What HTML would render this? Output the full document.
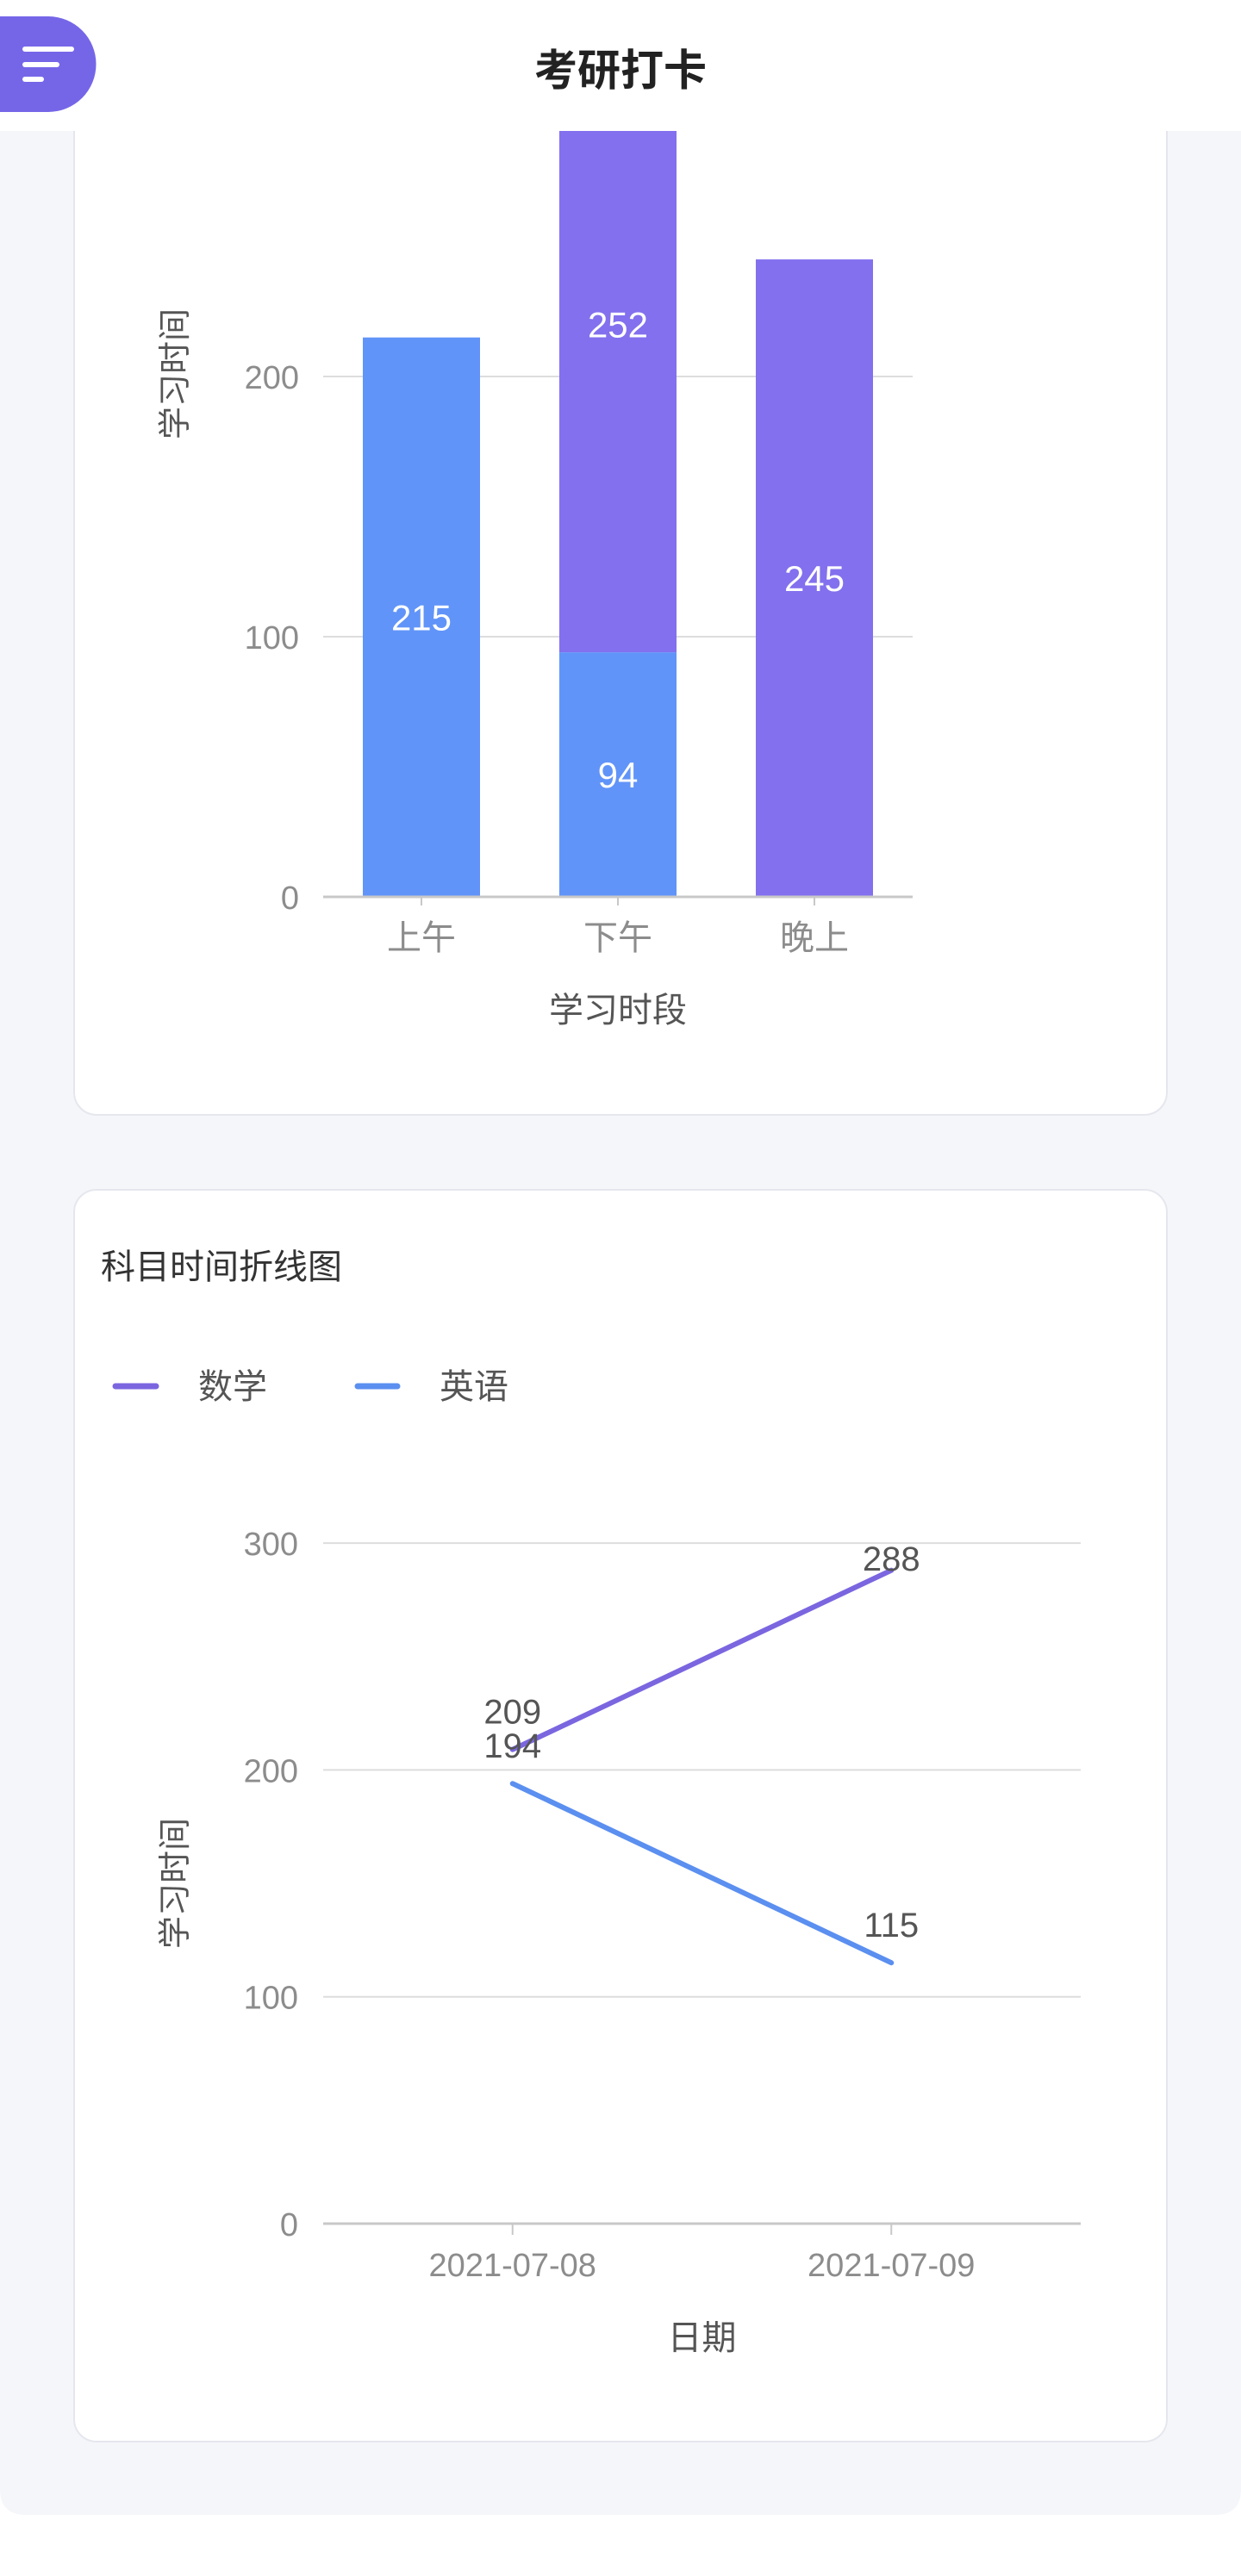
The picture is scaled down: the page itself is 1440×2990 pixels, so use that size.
<!DOCTYPE html>
<html>
<head>
<meta charset="utf-8">
<style>
  html,body{margin:0;padding:0;background:#fff;}
  body{width:1440px;height:2990px;overflow:hidden;font-family:"Liberation Sans","Noto Sans CJK SC",sans-serif;}
  svg{display:block;}
  text{font-family:"Liberation Sans","Noto Sans CJK SC",sans-serif;}
</style>
</head>
<body>
<svg id="page" width="1440" height="2990" viewBox="0 0 1440 2990" xmlns="http://www.w3.org/2000/svg">
  <rect x="0" y="0" width="1440" height="2990" fill="#ffffff"/>
  <path d="M0 100 H1440 V2889 Q1440 2919 1410 2919 H30 Q0 2919 0 2889 Z" fill="#f5f6fa"/>
  <rect x="86" y="60" width="1268" height="1234" rx="26" fill="#ffffff" stroke="#e6e7ee" stroke-width="2"/>
  <rect x="86" y="1381" width="1268" height="1453" rx="26" fill="#ffffff" stroke="#e6e7ee" stroke-width="2"/>
  <g id="bar-chart"></g>
  <g id="line-chart"></g>
  <text x="117" y="1484" font-size="40" fill="#333">科目时间折线图</text>
  <g>
    <line x1="134" y1="1609" x2="181" y2="1609" stroke="#7b66e0" stroke-width="7" stroke-linecap="round"/>
    <text x="230" y="1623" font-size="40" fill="#555">数学</text>
  </g>
  <g>
    <line x1="415" y1="1609" x2="461" y2="1609" stroke="#5b8ff0" stroke-width="7" stroke-linecap="round"/>
    <text x="510" y="1623" font-size="40" fill="#555">英语</text>
  </g>
  <g>
    <rect x="0" y="0" width="1440" height="152" fill="#ffffff"/>
    <path d="M0 19 H56 A55.5 55.5 0 0 1 56 130 H0 Z" fill="#7566e8"/>
    <g stroke="#fff" stroke-width="6" stroke-linecap="round">
      <line x1="29" y1="57" x2="83" y2="57"/>
      <line x1="29" y1="75" x2="66" y2="75"/>
      <line x1="29" y1="92" x2="48" y2="92"/>
    </g>
    <text x="720" y="99" font-size="50" font-weight="bold" fill="#222" text-anchor="middle">考研打卡</text>
  </g>
</svg>
<script>
var NS = 'http://www.w3.org/2000/svg';
// bar chart data
var barCategories = ['上午', '下午', '晚上'];
var barEnglish = [215, 94, 0];
var barMath = [0, 252, 245];
var barTicks = [0, 100, 200];
// line chart data
var lineDates = ['2021-07-08', '2021-07-09'];
var lineMath = [209, 288];
var lineEnglish = [194, 115];
var lineTicks = [0, 100, 200, 300];

function mk(tag, attrs, parent, text) {
  var e = document.createElementNS(NS, tag);
  for (var k in attrs) e.setAttribute(k, attrs[k]);
  if (text !== undefined) e.textContent = text;
  parent.appendChild(e);
  return e;
}

(function () {
  var g = document.getElementById('bar-chart');
  var x0 = 375, x1 = 1059, base = 1041, ppu = 3.02;
  var bw = (x1 - x0) / barCategories.length;
  function y(v) { return base - v * ppu; }
  function cx(i) { return x0 + bw * (i + 0.5); }
  barTicks.forEach(function (t) {
    if (t > 0) {
      var gl = mk('line', {x1: x0, x2: x1, y1: y(t), y2: y(t), stroke: '#dddddd', 'stroke-width': 2}, g);
      
      
    }
    var tl = mk('text', {x: 347, y: y(t) + 14, 'font-size': 38, fill: '#8c8c8c', 'text-anchor': 'end'}, g, String(t));
    
    
  });
  var w = 136;
  barCategories.forEach(function (c, i) {
    var e = barEnglish[i], m = barMath[i];
    if (e > 0) {
      var r = mk('rect', {x: cx(i) - w / 2, y: y(e), width: w, height: e * ppu, fill: '#6194f8'}, g);
      
      
      var t = mk('text', {x: cx(i), y: y(e / 2) + 15, 'font-size': 42, fill: '#fff', 'text-anchor': 'middle'}, g, String(e));
      
      
    }
    if (m > 0) {
      var r2 = mk('rect', {x: cx(i) - w / 2, y: y(e + m), width: w, height: m * ppu, fill: '#8270ee'}, g);
      
      
      var t2 = mk('text', {x: cx(i), y: y(e + m / 2) + 15, 'font-size': 42, fill: '#fff', 'text-anchor': 'middle'}, g, String(m));
      
      
    }
    var tk = mk('line', {x1: cx(i), x2: cx(i), y1: base, y2: base + 10, stroke: '#c8c8c8', 'stroke-width': 2}, g);
    
    
    var xl = mk('text', {x: cx(i), y: base + 61, 'font-size': 40, fill: '#8c8c8c', 'text-anchor': 'middle'}, g, c);
    
    
  });
  var ax = mk('line', {x1: x0, x2: x1, y1: base, y2: base, stroke: '#c8c8c8', 'stroke-width': 3}, g);
  
  
  var xt = mk('text', {x: (x0 + x1) / 2, y: 1186, 'font-size': 40, fill: '#555', 'text-anchor': 'middle'}, g, '学习时段');
  
  
  var yt = mk('text', {x: 0, y: 0, 'font-size': 38, fill: '#555', 'text-anchor': 'middle', transform: 'translate(216,434) rotate(-90)'}, g, '学习时间');
  
  
})();

(function () {
  var g = document.getElementById('line-chart');
  var x0 = 375, x1 = 1254, base = 2581, ppu = 2.633;
  var bw = (x1 - x0) / lineDates.length;
  function y(v) { return base - v * ppu; }
  function cx(i) { return x0 + bw * (i + 0.5); }
  lineTicks.forEach(function (t) {
    if (t > 0) {
      var gl = mk('line', {x1: x0, x2: x1, y1: y(t), y2: y(t), stroke: '#dddddd', 'stroke-width': 2}, g);
      
      
    }
    var tl = mk('text', {x: 346, y: y(t) + 14, 'font-size': 38, fill: '#8c8c8c', 'text-anchor': 'end'}, g, String(t));
    
    
  });
  var ax = mk('line', {x1: x0, x2: x1, y1: base, y2: base, stroke: '#c8c8c8', 'stroke-width': 3}, g);
  
  
  lineDates.forEach(function (d, i) {
    var tk = mk('line', {x1: cx(i), x2: cx(i), y1: base, y2: base + 13, stroke: '#c8c8c8', 'stroke-width': 2}, g);
    
    
    var xl = mk('text', {x: cx(i), y: base + 61, 'font-size': 38, fill: '#8c8c8c', 'text-anchor': 'middle'}, g, d);
    
    
  });
  function series(vals, color, name) {
    var pts = vals.map(function (v, i) { return cx(i) + ',' + y(v); }).join(' ');
    var pl = mk('polyline', {points: pts, fill: 'none', stroke: color, 'stroke-width': 6, 'stroke-linecap': 'round', 'stroke-linejoin': 'round'}, g);
    
    
  }
  function labels(vals, name) {
    vals.forEach(function (v, i) {
      var ly = Math.max(y(v) - 44, 1809);
      var t = mk('text', {x: cx(i), y: ly + 14, 'font-size': 40, fill: '#555', 'text-anchor': 'middle'}, g, String(v));
      
      
    });
  }
  series(lineEnglish, '#5b8ff0', 'english');
  series(lineMath, '#7b66e0', 'math');
  labels(lineMath, 'math');
  labels(lineEnglish, 'english');
  var xt = mk('text', {x: (x0 + x1) / 2, y: 2727, 'font-size': 40, fill: '#555', 'text-anchor': 'middle'}, g, '日期');
  
  
  var yt = mk('text', {x: 0, y: 0, 'font-size': 38, fill: '#555', 'text-anchor': 'middle', transform: 'translate(216,2186) rotate(-90)'}, g, '学习时间');
  
  
})();
</script>
</body>
</html>
